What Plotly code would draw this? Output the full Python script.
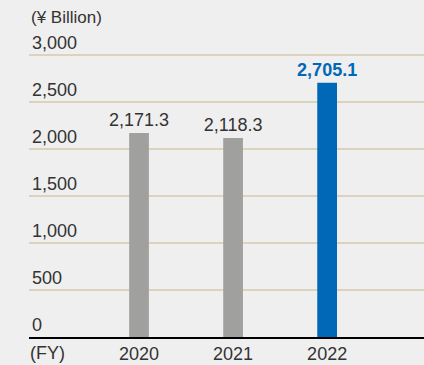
import plotly.graph_objects as go

years = ["2020", "2021", "2022"]
values = [2171.3, 2118.3, 2705.1]
labels = ["2,171.3", "2,118.3", "<b>2,705.1</b>"]
colors = ["#a0a19f", "#a0a19f", "#0068b7"]
label_colors = ["#333333", "#333333", "#0068b7"]
tick_vals = [0, 500, 1000, 1500, 2000, 2500, 3000]
tick_text = ["0", "500", "1,000", "1,500", "2,000", "2,500", "3,000"]

FONT = "Liberation Sans, Arial, sans-serif"

fig = go.Figure()
fig.add_trace(go.Bar(
    x=[0, 1, 2], y=values, width=0.21,
    marker=dict(color=colors, line=dict(width=0)),
    text=labels, textposition="outside", constraintext="none",
    textfont=dict(family=FONT, size=18, color=label_colors),
    cliponaxis=False, hoverinfo="skip",
))

fig.update_layout(
    width=424, height=365,
    margin=dict(l=29, r=0, t=32, b=28),
    paper_bgcolor="#efefef", plot_bgcolor="#efefef",
    showlegend=False,
    font=dict(family=FONT, size=18, color="#333333"),
    xaxis=dict(
        range=[-1.17, 3.03], tickvals=[0, 1, 2], ticktext=years,
        showgrid=False, zeroline=False, showline=True, linecolor="#000000",
        linewidth=1.5, ticks="", tickfont=dict(size=18, color="#333333"),
        ticklabelstandoff=0,
    ),
    yaxis=dict(
        range=[0, 3244.7], tickvals=tick_vals, ticktext=tick_text,
        showgrid=True, gridcolor="#dcd3bf", gridwidth=1.5, zeroline=False,
        ticklabelposition="inside top", ticks="",
        tickfont=dict(size=18, color="#333333"),
    ),
    annotations=[
        dict(text="(¥ Billion)", xref="paper", yref="paper", x=0, y=1,
             xanchor="left", yanchor="bottom", yshift=3, xshift=0,
             showarrow=False, font=dict(size=17, color="#333333")),
        dict(text="(FY)", xref="paper", yref="paper", x=0, y=0,
             xanchor="left", yanchor="top", yshift=-4, xshift=-1,
             showarrow=False, font=dict(size=18, color="#333333")),
    ],
)

fig.write_html("out.html")
